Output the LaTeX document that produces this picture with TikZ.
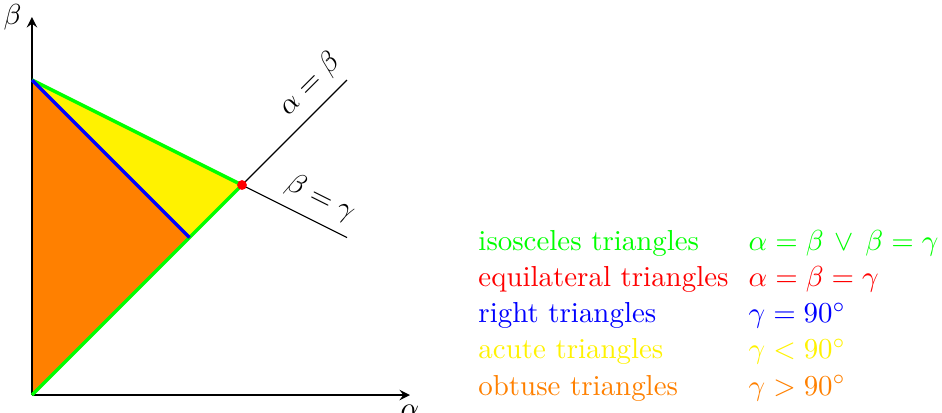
\documentclass[tikz,border=0pt]{standalone}
\usetikzlibrary{arrows}
\tikzset{
  legend/.style={anchor=base west,inner sep=0pt},
  border/.style={line width=1.2pt}
}
\begin{document}
\begin{tikzpicture}[x=1.211pt,y=1.211pt]
  \useasboundingbox (-9.14,-4.86) rectangle (260,112.86);
  % corners of the region alpha <= beta <= gamma
  \coordinate (O) at (0,0);
  \coordinate (T) at (0,90);
  \coordinate (R) at (45,45);
  \coordinate (E) at (60,60);
  \fill[orange] (O) -- (T) -- (R) -- cycle;
  \fill[yellow] (T) -- (E) -- (R) -- cycle;
  % axes
  \draw[semithick,-stealth] (O) -- (108,0) node[below] (alab) {$\alpha$};
  \draw[semithick,-stealth] (O) -- (0,108) node[left] (blab) {$\beta$};
  \draw (E) -- (90,90) node[sloped,above,pos=.8] (ab) {$\alpha=\beta$};
  \draw (E) -- (90,45) node[sloped,above,pos=.65] (bg) {$\beta=\gamma$};
  \draw[border,green] (O) -- (E) -- (T);
  \draw[border,blue] (T) -- (R);
  \fill[red] (E) circle (1.7pt);
  % legend
  \node[legend,green] (iso) at (127.4,41.4) {isosceles triangles};
  \node[legend,green] (isoeq) at (204.6,41.4) {$\alpha=\beta\,\vee\,\beta=\gamma$};
  \node[legend,red] (equi) at (127.4,31) {equilateral triangles};
  \node[legend,red] (equieq) at (204.6,31) {$\alpha=\beta=\gamma$};
  \node[legend,blue] (right) at (127.4,20.7) {right triangles};
  \node[legend,blue] (righteq) at (204.6,20.7) {$\gamma=90^\circ$};
  \node[legend,yellow] (acute) at (127.4,10.4) {acute triangles};
  \node[legend,yellow] (acuteeq) at (204.6,10.4) {$\gamma<90^\circ$};
  \node[legend,orange] (obt) at (127.4,0) {obtuse triangles};
  \node[legend,orange] (obteq) at (204.6,0) {$\gamma>90^\circ$};
\end{tikzpicture}
\end{document}
